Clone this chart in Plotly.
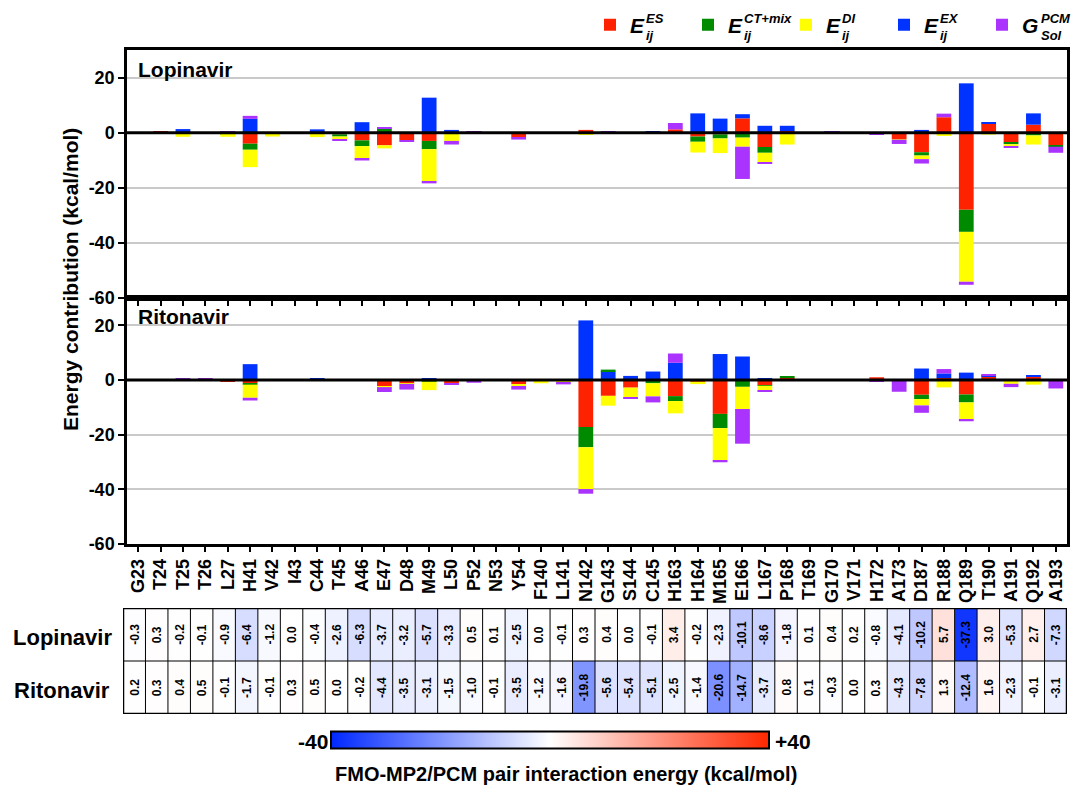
import plotly.graph_objects as go

residues = ["G23","T24","T25","T26","L27","H41","V42","I43","C44","T45","A46","E47","D48","M49","L50",
            "P52","N53","Y54","F140","L141","N142","G143","S144","C145","H163","H164","M165","E166","L167",
            "P168","T169","G170","V171","H172","A173","D187","R188","Q189","T190","A191","Q192","A193"]

# Lopinavir energy components (kcal/mol)
lop_es  = [-0.2,0.3,-0.3,0.0,-0.2,-4.0,-0.3,0.0,-0.2,-0.6,-2.8,-4.6,-2.7,-3.0,-0.2,0.2,0.1,-1.6,0.0,0.0,1.0,0.0,0.0,0.2,1.2,-1.4,-0.6,5.2,-5.2,0.6,0.0,0.2,0.1,-0.5,-2.3,-7.1,5.6,-28.0,3.3,-3.6,2.9,-4.5]
lop_ct  = [0.0,0.0,-0.1,-0.1,-0.3,-2.2,-0.5,0.0,-0.2,-0.8,-2.1,1.5,0.0,-3.0,0.0,0.0,0.0,0.0,0.0,0.0,-0.2,0.0,0.0,0.0,0.0,-1.9,-1.5,-1.8,-2.1,-0.4,0.1,0.0,0.0,0.0,0.0,-1.2,0.0,-8.0,-0.1,-0.6,-1.0,-0.6]
lop_di  = [-0.1,0.0,-1.1,-0.2,-1.0,-6.3,-0.6,0.0,-1.2,-0.9,-4.6,-1.1,-0.1,-11.7,-2.8,-0.1,0.0,-0.3,0.0,-0.1,-0.5,0.0,0.0,-0.5,-0.1,-3.9,-5.3,-3.3,-3.6,-3.9,0.0,0.0,0.0,-0.2,-0.2,-1.3,-1.2,-18.1,-0.6,-0.9,-3.3,0.0]
lop_ex  = [0.0,0.0,1.3,0.2,0.3,5.0,0.2,0.0,1.2,0.1,3.8,0.1,0.0,12.7,1.0,0.3,0.0,0.0,0.0,0.0,0.0,0.0,0.0,0.2,0.0,7.0,5.1,1.5,2.5,1.9,0.0,0.1,0.1,0.0,0.0,1.0,0.0,17.9,0.4,0.0,4.1,0.0]
lop_sol = [0.0,0.0,0.0,0.0,0.3,1.1,0.0,0.0,0.0,-0.4,-0.6,0.4,-0.4,-0.7,-1.3,0.1,0.0,-0.6,0.0,0.0,0.0,0.4,0.0,0.0,2.3,0.0,0.0,-11.7,-0.2,0.0,0.0,0.1,0.0,-0.1,-1.6,-1.6,1.3,-1.1,0.0,-0.2,0.0,-2.2]

# Ritonavir energy components (kcal/mol)
rit_es  = [0.2,0.3,0.0,0.3,-0.4,-1.1,-0.1,0.3,0.3,0.0,-0.2,-2.2,-1.3,0.0,-1.2,0.0,-0.1,-1.6,0.0,-0.2,-17.2,-5.8,-2.8,-0.2,-5.9,-0.6,-12.4,-0.1,-1.9,0.8,0.1,-0.2,0.0,1.0,0.0,-5.4,0.7,-5.3,1.2,0.0,1.2,0.0]
rit_ct  = [0.0,0.0,0.0,0.0,0.0,-0.6,0.0,0.0,0.0,0.0,0.0,0.0,0.0,-0.6,0.0,0.0,0.0,0.0,0.0,0.0,-7.4,0.7,0.0,-1.0,-1.8,0.0,-5.2,-2.4,-0.2,0.3,0.0,0.0,0.0,0.0,0.0,-1.6,0.0,-2.9,0.0,0.0,0.0,0.0]
rit_di  = [0.0,0.0,0.0,0.0,0.0,-4.8,0.0,0.0,0.0,0.0,0.0,-0.4,-0.1,-3.1,-0.2,-0.3,0.0,-0.6,-1.2,-0.8,-15.3,-3.6,-3.5,-4.8,-4.5,-0.9,-11.9,-8.1,-1.9,-0.3,0.0,-0.1,0.0,-0.4,0.0,-2.3,-2.7,-6.2,-0.3,-1.4,-1.7,0.0]
rit_ex  = [0.0,0.0,0.0,0.0,0.3,5.8,0.0,0.0,0.2,0.0,0.0,0.0,0.0,0.6,0.0,0.0,0.0,0.0,0.0,0.0,21.8,3.1,1.5,3.1,6.3,0.1,9.5,8.6,0.5,0.0,0.0,0.0,0.0,0.0,0.0,4.2,1.7,2.7,0.3,0.3,0.4,0.0]
rit_sol = [0.0,0.0,0.4,0.2,0.0,-1.0,0.0,0.0,0.0,0.0,0.0,-1.8,-2.1,0.0,-0.1,-0.7,0.0,-1.3,0.0,-0.6,-1.7,0.0,-0.6,-2.2,3.4,0.0,-0.6,-12.7,-0.2,0.0,0.0,0.0,0.0,-0.3,-4.3,-2.7,1.6,-0.7,0.4,-1.2,0.0,-3.1]

# FMO-MP2/PCM pair interaction energies (heatmap)
lop_total = [-0.3,0.3,-0.2,-0.1,-0.9,-6.4,-1.2,0.0,-0.4,-2.6,-6.3,-3.7,-3.2,-5.7,-3.3,0.5,0.1,-2.5,0.0,-0.1,0.3,0.4,0.0,-0.1,3.4,-0.2,-2.3,-10.1,-8.6,-1.8,0.1,0.4,0.2,-0.8,-4.1,-10.2,5.7,-37.3,3.0,-5.3,2.7,-7.3]
rit_total = [0.2,0.3,0.4,0.5,-0.1,-1.7,-0.1,0.3,0.5,0.0,-0.2,-4.4,-3.5,-3.1,-1.5,-1.0,-0.1,-3.5,-1.2,-1.6,-19.8,-5.6,-5.4,-5.1,-2.5,-1.4,-20.6,-14.7,-3.7,0.8,0.1,-0.3,0.0,0.3,-4.3,-7.8,1.3,-12.4,1.6,-2.3,-0.1,-3.1]
drugs = ["Lopinavir", "Ritonavir"]

y_tickvals = [-60, -40, -20, 0, 20]
y_ticktext = ["-60", "-40", "-20", "0", "20"]
legend_sup = {"ES": "ES", "CT": "CT+mix", "DI": "DI", "EX": "EX", "SOL": "PCM"}
legend_sub = {"ES": "ij", "CT": "ij", "DI": "ij", "EX": "ij", "SOL": "Sol"}
legend_base = {"ES": "E", "CT": "E", "DI": "E", "EX": "E", "SOL": "G"}

W, H = 1071, 787
def px(x): return x / W
def py(y): return 1 - y / H

FONT = "Liberation Sans, Arial, sans-serif"
colors = {"ES": "#ff2200", "EX": "#0033ff", "CT": "#008a00", "DI": "#ffff00", "SOL": "#aa33ff"}
# stacking order (ES, EX, CT+mix, DI, Sol); legend order via legendrank
comp_order = [("ES", 1), ("EX", 4), ("CT", 2), ("DI", 3), ("SOL", 5)]
lop = {"ES": lop_es, "CT": lop_ct, "DI": lop_di, "EX": lop_ex, "SOL": lop_sol}
rit = {"ES": rit_es, "CT": rit_ct, "DI": rit_di, "EX": rit_ex, "SOL": rit_sol}

fig = go.Figure()
for key, rank in comp_order:
    fig.add_trace(go.Bar(x=residues, y=lop[key], xaxis="x", yaxis="y",
                         name=f"<b><i>{legend_base[key]}</i></b>",
                         marker=dict(color=colors[key], line=dict(width=0)), width=0.66,
                         legendgroup=key, legendrank=rank, showlegend=True))
for key, rank in comp_order:
    fig.add_trace(go.Bar(x=residues, y=rit[key], xaxis="x2", yaxis="y2",
                         name=f"<b><i>{legend_base[key]}</i></b>",
                         marker=dict(color=colors[key], line=dict(width=0)), width=0.66,
                         legendgroup=key, legendrank=rank, showlegend=False))

fig.add_trace(go.Heatmap(
    x=residues, y=drugs, z=[lop_total, rit_total], xaxis="x3", yaxis="y3",
    zmin=-40, zmax=40,
    colorscale=[[0, "rgb(0,40,255)"], [0.5, "rgb(255,255,255)"], [1, "rgb(255,40,0)"]],
    showscale=True,
    colorbar=dict(orientation="h", xref="container", yref="container",
                  x=px(550), xanchor="center", y=py(741), yanchor="middle",
                  len=438, lenmode="pixels", thickness=17, showticklabels=False, ticks="",
                  outlinewidth=2, outlinecolor="black", xpad=0, ypad=0),
    hoverinfo="skip"))

xdom = [px(127), px(1067)]
yax_common = dict(range=[-60, 30], tickvals=y_tickvals, ticktext=y_ticktext, ticks="outside", ticklen=6,
                  tickwidth=2, tickcolor="black", showline=True, linewidth=2.5, linecolor="black",
                  mirror=True, showgrid=True, gridcolor="#c9c9c9", gridwidth=1.5, zeroline=False,
                  tickfont=dict(family=FONT, size=18, color="black", weight="bold"), automargin=False)
xax_common = dict(domain=xdom, range=[-0.5, 41.5], type="category", ticks="outside", ticklen=5,
                  tickwidth=2, tickcolor="black", showline=True, linewidth=2.5, linecolor="black",
                  mirror=True, showgrid=False, automargin=False)

fig.update_layout(
    width=W, height=H, margin=dict(l=0, r=0, t=0, b=0, autoexpand=False),
    paper_bgcolor="white", plot_bgcolor="white",
    barmode="relative", bargap=0.34,
    font=dict(family=FONT, color="black"),
    xaxis=dict(**xax_common, anchor="y", showticklabels=False),
    yaxis=dict(**yax_common, domain=[py(298), py(50)], anchor="x"),
    xaxis2=dict(**xax_common, anchor="y2", showticklabels=True, tickangle=-90,
                tickfont=dict(family=FONT, size=18, color="black", weight="bold")),
    yaxis2=dict(**yax_common, domain=[py(544), py(298)], anchor="x2"),
    xaxis3=dict(domain=[px(123), px(1067)], range=[-0.5, 41.5], type="category", anchor="y3",
                visible=False),
    yaxis3=dict(domain=[py(714), py(608)], range=[1.5, -0.5], type="category", anchor="x3",
                visible=False),
    legend=dict(orientation="h", x=px(590), xanchor="left", y=py(25), yanchor="middle",
                font=dict(family=FONT, size=21, color="black"), itemwidth=30,
                entrywidth=53, entrywidthmode="pixels", traceorder="normal",
                bgcolor="rgba(0,0,0,0)", itemclick=False),
    showlegend=True,
)

shapes = []
for ya, xa in (("y", "x"), ("y2", "x2")):
    shapes.append(dict(type="line", xref=f"{xa} domain", x0=0, x1=1, yref=ya, y0=0, y1=0,
                       line=dict(color="black", width=3), layer="above"))
n = len(residues)
for i in range(n - 1):
    shapes.append(dict(type="line", xref="x3", yref="y3", x0=i + 0.5, x1=i + 0.5, y0=-0.5, y1=1.5,
                       line=dict(color="black", width=1), layer="above"))
shapes.append(dict(type="line", xref="x3", yref="y3", x0=-0.5, x1=n - 0.5, y0=0.5, y1=0.5,
                   line=dict(color="black", width=1), layer="above"))
shapes.append(dict(type="rect", xref="x3", yref="y3", x0=-0.5, x1=n - 0.5, y0=-0.5, y1=1.5,
                   line=dict(color="black", width=2.5), layer="above"))
fig.update_layout(shapes=shapes)

ann = []
bold = dict(family=FONT, color="black", weight="bold")
def label(text, x, y, size, xanchor="center", angle=0):
    return dict(text=text, x=px(x), y=py(y), xref="paper", yref="paper", xanchor=xanchor,
                yanchor="middle", textangle=angle, showarrow=False, font=dict(**bold, size=size))
ann.append(label("Energy contribution (kcal/mol)", 71, 280, 21, angle=-90))
ann.append(label("Lopinavir", 136, 69, 21, xanchor="left"))
ann.append(label("Ritonavir", 136, 316, 21, xanchor="left"))
ann.append(label("Lopinavir", 62, 637, 22))
ann.append(label("Ritonavir", 62, 690, 22))
ann.append(label("-40", 330, 741, 21, xanchor="right"))
ann.append(label("+40", 773, 741, 21, xanchor="left"))
ann.append(label("FMO-MP2/PCM pair interaction energy (kcal/mol)", 566, 774, 20))
# stacked super/subscripts for legend labels
legend_keys = ["ES", "CT", "DI", "EX", "SOL"]
sup_x0 = [644, 742, 840, 938, 1039]
for k, x0 in zip(legend_keys, sup_x0):
    ann.append(label(f"<i>{legend_sup[k]}</i>", x0, 19, 13, xanchor="left"))
    ann.append(label(f"<i>{legend_sub[k]}</i>", x0, 35, 13, xanchor="left"))
for r, (drug, vals) in enumerate(zip(drugs, [lop_total, rit_total])):
    for res, v in zip(residues, vals):
        ann.append(dict(text=f"{v:.1f}", x=res, y=drug, xref="x3", yref="y3", textangle=-90,
                        xanchor="center", yanchor="middle",
                        showarrow=False, font=dict(**bold, size=12)))
fig.update_layout(annotations=ann)

fig.write_html("out.html", config={"displayModeBar": False},
               post_script="document.body.style.margin='0px';document.body.style.padding='0px';")
